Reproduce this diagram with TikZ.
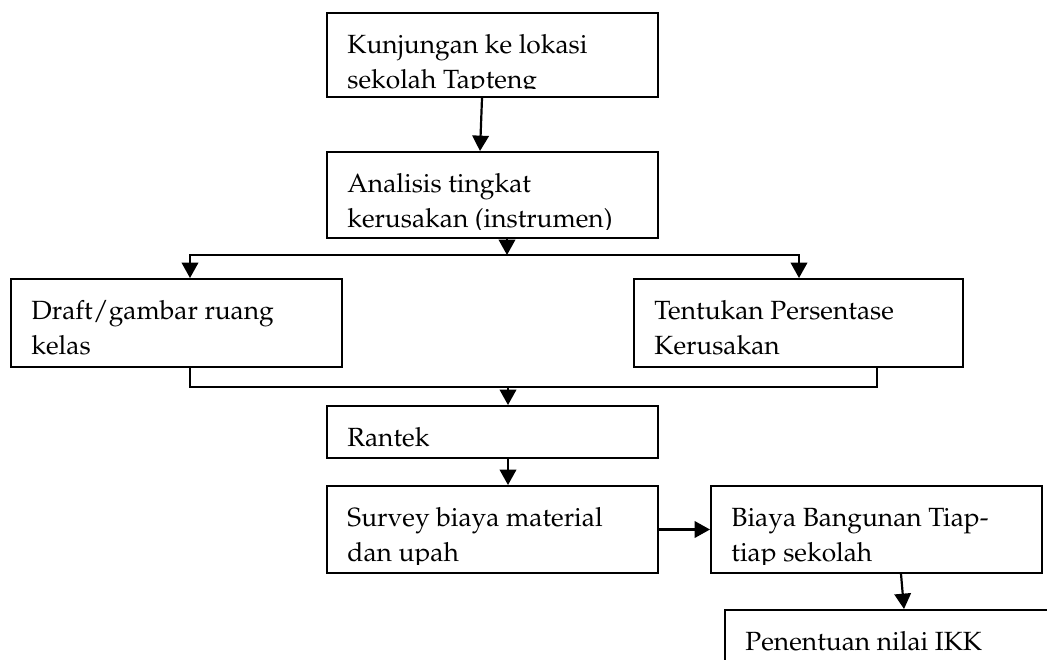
\documentclass[tikz,border=0pt]{standalone}
\usepackage[T1]{fontenc}
\usepackage{palatino}
\usetikzlibrary{arrows.meta,calc,fit,positioning}

\begin{document}
\begin{tikzpicture}
    [
      x=0.016cm, y=-0.016cm,
      kotak/.style={draw, line width=0.9pt, inner sep=0pt},
      teks/.style={anchor=north west, inner sep=0pt, align=left,
        font=\fontsize{12}{16}\selectfont},
      post/.style={-{Triangle[length=7pt,width=7.5pt]}, line width=1pt},
      garis/.style={line width=0.9pt, line cap=rect},
    ]

    \useasboundingbox (0,0) rectangle (1047,659);
    \clip (0,0) rectangle (1047,659);

    \node (kunjungan) [kotak, fit={(327,13) (658,97)}] {};
    \node (analisis) [kotak, fit={(327,152) (658,238)}] {};
    \node (draft) [kotak, fit={(11,279) (342,367)}] {};
    \node (persen) [kotak, fit={(634,279) (963,367)}] {};
    \node (rantek) [kotak, fit={(327,406) (658,458)}] {};
    \node (survey) [kotak, fit={(327,486) (658,573)}] {};
    \node (biaya) [kotak, fit={(711,486) (1042,573)}] {};
    \node (ikk) [kotak, fit={(725,610) (1060,700)}] {};

    % text inside the boxes, cut off a little above the lower edge
    \foreach \kotak/\isi in {kunjungan/{Kunjungan ke lokasi\\sekolah Tapteng},
        analisis/{Analisis tingkat\\kerusakan (instrumen)},
        draft/{Draft/gambar ruang\\kelas},
        persen/{Tentukan Persentase\\Kerusakan},
        rantek/{Rantek},
        survey/{Survey biaya material\\dan upah},
        biaya/{Biaya Bangunan Tiap-\\tiap sekolah},
        ikk/{Penentuan nilai IKK}}
    {
      \begin{scope}
        \clip (\kotak.north west) rectangle ([yshift=4.2pt]\kotak.south east);
        \node (\kotak-teks) [teks] at ([shift={(21,16)}]\kotak.north west) {\strut\isi};
      \end{scope}
    }

    \coordinate (cabang) at (507,255);
    \coordinate (kiri) at (190,255);
    \coordinate (kanan) at (799,255);
    \coordinate (gabung) at (508,387);
    \coordinate (kiri2) at (190,387);
    \coordinate (kanan2) at (877,387);

    \draw [post] ($(kunjungan.south west)+(156,0)$) -- ($(analisis.north west)+(154,0)$);
    \draw [post] (analisis.south -| cabang) -- (cabang);
    \draw [garis] (kanan) -- (kiri);
    \draw [post] (kiri) -- (kiri |- draft.north);
    \draw [post] (kanan) -- (kanan |- persen.north);
    \draw [garis] (draft.south -| kiri2) -- (kiri2) -- (kanan2) -- (persen.south -| kanan2);
    \draw [post] (gabung) -- (gabung |- rantek.north);
    \draw [post] (rantek.south -| gabung) -- (gabung |- survey.north);
    \draw [post] (survey.east) -- (biaya.west);
    \draw [post] ($(biaya.south west)+(191,0)$) -- ($(ikk.north west)+(180,0)$);

  \end{tikzpicture}
\end{document}
